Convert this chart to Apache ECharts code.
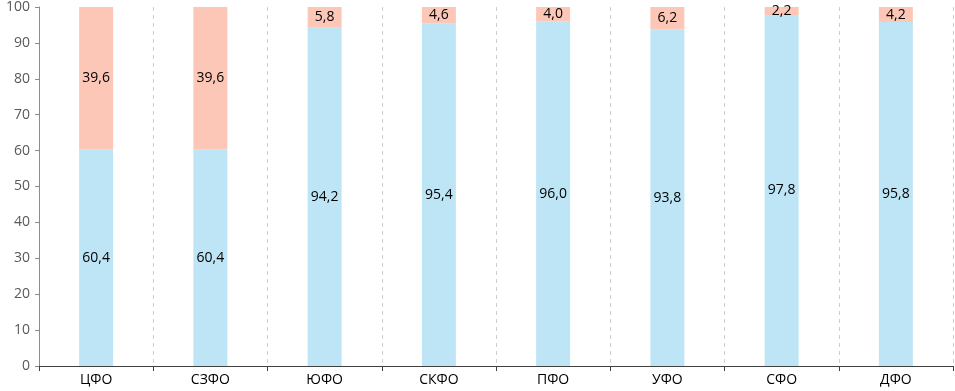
<!DOCTYPE html>
<html>
<head>
<meta charset="utf-8">
<script src="https://cdn.jsdelivr.net/npm/echarts@6/dist/echarts.min.js"></script>
<style>
  html, body { margin: 0; padding: 0; background: #fff; }
  #chart { width: 955px; height: 391px; }
</style>
</head>
<body>
<div id="chart"></div>
<script>
var categories = ['ЦФО', 'СЗФО', 'ЮФО', 'СКФО', 'ПФО', 'УФО', 'СФО', 'ДФО'];
var lowerValues = [60.4, 60.4, 94.2, 95.4, 96.0, 93.8, 97.8, 95.8];
var upperValues = [39.6, 39.6, 5.8, 4.6, 4.0, 6.2, 2.2, 4.2];
var yTicks = [0, 10, 20, 30, 40, 50, 60, 70, 80, 90, 100];

var fontFam = 'Open Sans, sans-serif';

function fmt(p) {
  return p.value.toFixed(1).replace('.', ',');
}

var chart = echarts.init(document.getElementById('chart'));
chart.setOption({
  animation: false,
  grid: { left: 39, right: 2, top: 6, bottom: 25 },
  xAxis: {
    type: 'category',
    data: categories,
    axisLine: { lineStyle: { color: '#404040', width: 1 } },
    axisTick: { show: true, length: 5, lineStyle: { color: '#404040' } },
    axisLabel: { color: '#000', fontSize: 14, fontFamily: fontFam, margin: 7 },
    splitLine: { show: true, lineStyle: { color: '#d0d0d0', type: [4, 4] } }
  },
  yAxis: {
    type: 'value',
    min: yTicks[0],
    max: yTicks[yTicks.length - 1],
    interval: 10,
    axisLine: { show: true, lineStyle: { color: '#8c8c8c' } },
    axisTick: { show: true, length: 4, lineStyle: { color: '#8c8c8c' } },
    axisLabel: { color: '#595959', fontSize: 14, fontFamily: fontFam, margin: 9 },
    splitLine: { show: false }
  },
  series: [
    {
      type: 'bar',
      stack: 'total',
      data: lowerValues,
      barWidth: 34,
      itemStyle: { color: '#bde5f5' },
      label: { show: true, position: 'inside', formatter: fmt, color: '#000', fontSize: 14, fontFamily: fontFam }
    },
    {
      type: 'bar',
      stack: 'total',
      data: upperValues,
      barWidth: 34,
      itemStyle: { color: '#fcc7b7' },
      label: { show: true, position: 'inside', formatter: fmt, color: '#000', fontSize: 14, fontFamily: fontFam }
    }
  ]
});
</script>
</body>
</html>
